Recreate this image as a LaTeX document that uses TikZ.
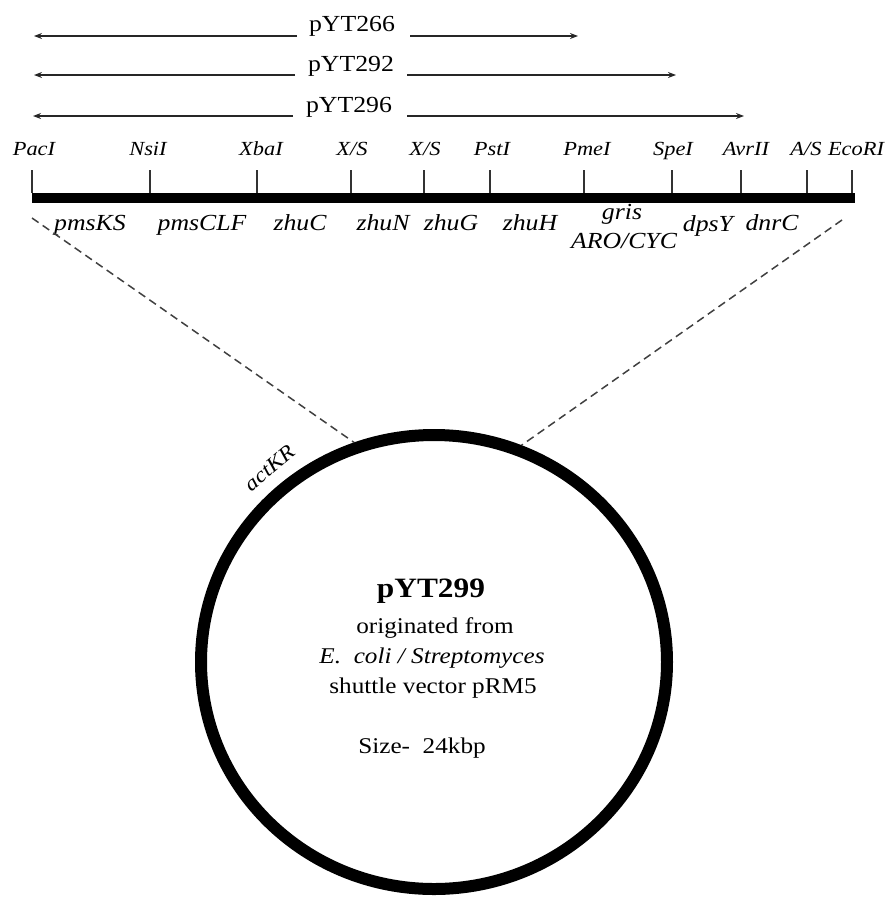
\documentclass[tikz,border=0pt]{standalone}
\usepackage{fontspec}
\setmainfont{Liberation Serif}[FakeStretch=1.12]
\usetikzlibrary{arrows.meta,shapes.geometric}
\begin{document}
\begin{tikzpicture}[x=1pt,y=-1pt,
  site/.style={font=\fontsize{20}{22}\selectfont\itshape, anchor=base, inner sep=0pt},
  gene/.style={font=\fontsize{23}{25}\selectfont\itshape, anchor=base, inner sep=0pt},
  clone/.style={font=\fontsize{23}{25}\selectfont, anchor=base, inner sep=0pt},
  body/.style={font=\fontsize{22.5}{25}\selectfont, anchor=base, inner sep=0pt},
  spanline/.style={line width=1.8pt, draw=black!85, -{Stealth[length=8pt,width=6pt]}},
  tickline/.style={line width=1.5pt, draw=black!80},
  zoomline/.style={draw=black!75, line width=1.5pt, dash pattern=on 8pt off 5pt}]
\useasboundingbox (0,0) rectangle (884,897);

% clone spans
\node[clone] (c266) at (352,31) {pYT266};
\node[clone] (c292) at (351,71) {pYT292};
\node[clone] (c296) at (349,112) {pYT296};
\coordinate (c266a) at (297,36); \coordinate (c266L) at (34,36);
\coordinate (c266b) at (410,36); \coordinate (c266R) at (578,36);
\coordinate (c292a) at (295,75); \coordinate (c292L) at (34,75);
\coordinate (c292b) at (407,75); \coordinate (c292R) at (676,75);
\coordinate (c296a) at (293,116); \coordinate (c296L) at (33,116);
\coordinate (c296b) at (407,116); \coordinate (c296R) at (744,116);
\draw[spanline] (c266a) -- (c266L);
\draw[spanline] (c266b) -- (c266R);
\draw[spanline] (c292a) -- (c292L);
\draw[spanline] (c292b) -- (c292R);
\draw[spanline] (c296a) -- (c296L);
\draw[spanline] (c296b) -- (c296R);

% map bar
\node[fill=black, minimum width=823pt, minimum height=10pt, inner sep=0pt] (bar) at (443.5,198) {};

% restriction sites
\foreach \nm/\lx/\tx/\txt in {s1/34/32/{PacI}, s2/148/150/{NsiI}, s3/261/257/{XbaI},
  s4/352/351/{X/S}, s5/425/424/{X/S}, s6/492/490/{PstI}, s7/587/584/{PmeI},
  s8/673/672/{SpeI}, s9/746/741/{AvrII}, s10/806/807/{A/S}, s11/856/852/{EcoRI}}{
  \node[site] (\nm) at (\lx,155) {\txt};
  \coordinate (\nm t) at (\tx,170);
  \draw[tickline] (\nm t) -- (\nm t |- bar.north);
}

% genes
\node[gene] (g1) at (90,230) {pmsKS};
\node[gene] (g2) at (202,230) {pmsCLF};
\node[gene] (g3) at (300,230) {zhuC};
\node[gene] (g4) at (383,230) {zhuN};
\node[gene] (g5) at (451,230) {zhuG};
\node[gene] (g6) at (530,230) {zhuH};
\node[gene] (g7) at (622,219) {gris};
\node[gene] (g8) at (624,248) {ARO/CYC};
\node[gene] (g9) at (708,231) {dpsY};
\node[gene] (g10) at (772,230) {dnrC};

% plasmid
\node[draw=black, ellipse, line width=12pt, minimum width=466pt, minimum height=454pt, inner sep=0pt] (plasmid) at (434,662) {};
\coordinate (zl) at (32,218);
\coordinate (zr) at (842,220);
\draw[zoomline] (zl) -- (plasmid.110);
\draw[zoomline] (zr) -- (plasmid.68);

\node[font=\fontsize{21}{23}\selectfont\itshape, rotate=40, inner sep=0pt] (kr) at (270,468) {actKR};

\node[anchor=base, inner sep=0pt, font=\fontsize{28}{30}\selectfont\bfseries] (t1) at (431,597) {pYT299};
\node[body] (t2) at (435,633) {originated from};
\node[body] (t3) at (432,663) {\itshape E.\ \ coli / Streptomyces};
\node[body] (t4) at (433,693) {shuttle vector pRM5};
\node[body] (t5) at (422,753) {Size-\ \ 24kbp};
\end{tikzpicture}
\end{document}
